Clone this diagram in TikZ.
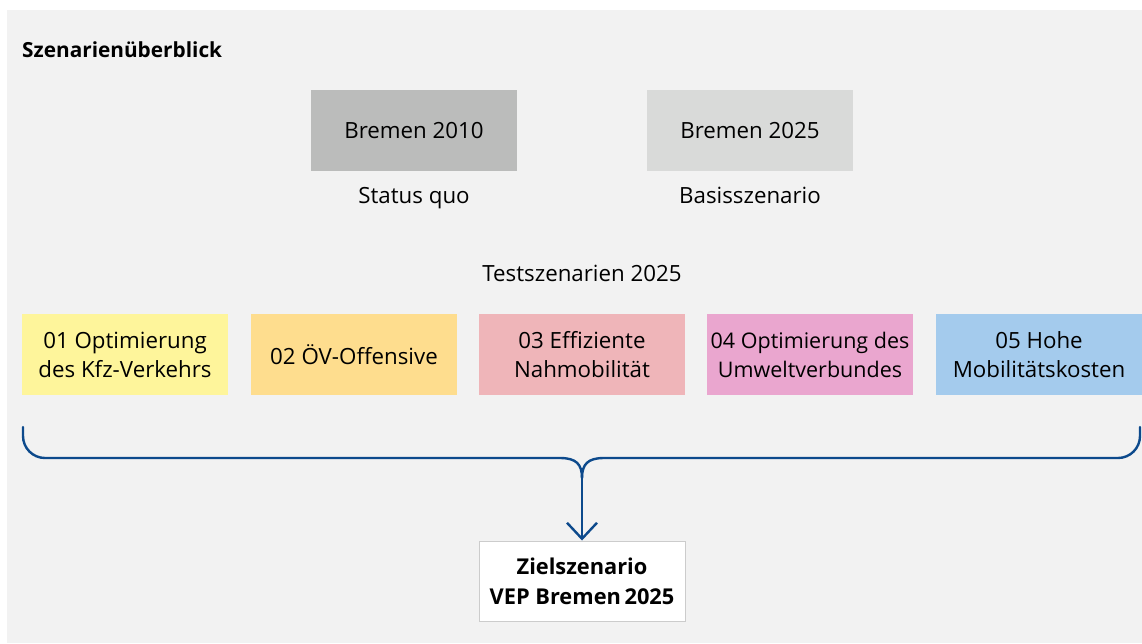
\documentclass[tikz,border=0pt]{standalone}
\usepackage{fontspec}
\setmainfont{Open Sans}
\usetikzlibrary{arrows.meta}
\definecolor{bggray}{HTML}{F2F2F2}
\definecolor{darkbox}{HTML}{BBBCBB}
\definecolor{lightbox}{HTML}{D9DAD9}
\definecolor{c1}{HTML}{FEF59B}
\definecolor{c2}{HTML}{FEDD8E}
\definecolor{c3}{HTML}{EFB5B9}
\definecolor{c4}{HTML}{EAA6CF}
\definecolor{c5}{HTML}{A4CBED}
\definecolor{bracecol}{HTML}{0D4A8C}
\definecolor{framegray}{HTML}{CCCCCC}
\tikzset{
  box/.style={minimum width=206pt, minimum height=81pt, inner sep=0pt, align=center, font=\fontsize{22.3}{29}\selectfont},
  lbl/.style={font=\fontsize{22.3}{29}\selectfont, inner sep=0pt, anchor=base},
  brace/.style={draw=bracecol, line width=2.4pt, line cap=round, line join=round}
}
\begin{document}
\begin{tikzpicture}[x=1pt,y=-1pt]
\useasboundingbox (0,0) rectangle (1142,643);
\fill[white] (0,0) rectangle (1142,643);
\fill[bggray] (7,10) rectangle (1142,643);
\node[anchor=base west, inner sep=0pt, font=\fontsize{20.8}{24}\selectfont\bfseries] (title) at (22,57) {Szenarienüberblick};
\node[box, fill=darkbox] (b2010) at (414,130.5) {Bremen 2010};
\node[box, fill=lightbox] (b2025) at (750,130.5) {Bremen 2025};
\node[lbl] (sq) at (414,203) {Status quo};
\node[lbl] (bs) at (750,203) {Basisszenario};
\node[lbl] (ts) at (582,281) {Testszenarien 2025};
\node[box, fill=c1] (s1) at (125,354.5) {01 Optimierung\\des Kfz-Verkehrs};
\node[box, fill=c2] (s2) at (354,354.5) {02 ÖV-Offensive};
\node[box, fill=c3] (s3) at (582,354.5) {03 Effiziente\\Nahmobilität};
\node[box, fill=c4, font=\fontsize{21.5}{29}\selectfont] (s4) at (810,354.5) {04 Optimierung des\\Umweltverbundes};
\node[box, fill=c5] (s5) at (1039,354.5) {05 Hohe\\Mobilitätskosten};
\node[box, minimum height=80pt, fill=white, draw=framegray, line width=1pt, font=\fontsize{21.8}{30}\selectfont\bfseries] (ziel) at (582,581) {Zielszenario\\VEP Bremen\,2025};
\coordinate (bl) at (23,427);
\coordinate (br) at (1140,427);
\coordinate (mid) at (582,478);
\draw[brace] (bl) -- (23,436) arc[start angle=180, end angle=90, x radius=22pt, y radius=-22pt] -- (560,458) .. controls (576,458) and (582,464) .. (mid);
\draw[brace] (br) -- (1140,436) arc[start angle=0, end angle=90, x radius=22pt, y radius=-22pt] -- (604,458) .. controls (588,458) and (582,464) .. (mid);
\draw[brace, -{Straight Barb[length=16pt, width=30pt, line width=2.4pt]}] (mid) -- (ziel.north);
\end{tikzpicture}
\end{document}
